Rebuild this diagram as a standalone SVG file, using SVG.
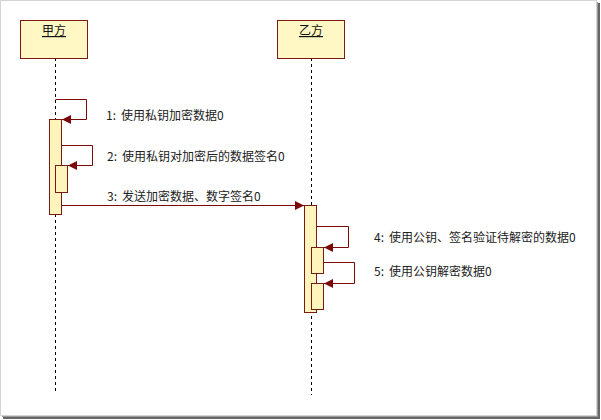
<svg xmlns="http://www.w3.org/2000/svg" width="601" height="420" viewBox="0 0 601 420">
<defs>
<marker id="ah" markerUnits="userSpaceOnUse" markerWidth="9" markerHeight="9" refX="9" refY="4.5" orient="auto">
<path d="M0,0 L9,4.5 L0,9 z" fill="#7a0a0a"/>
</marker>
</defs>
<style>
.box{fill:#fff8c4;stroke:#7a1a10;stroke-width:1}
.act{fill:#fff5bc;stroke:#7a1a10;stroke-width:1}
.life{stroke:#000;stroke-width:1;stroke-dasharray:3 3;fill:none}
.msg{stroke:#7a0a0a;stroke-width:1;fill:none;marker-end:url(#ah)}
.title{font-family:"Noto Sans CJK SC","Liberation Sans",sans-serif;font-size:12px;fill:#111;text-anchor:middle;text-decoration:underline}
.lbl{font-family:"Noto Sans CJK SC","Liberation Sans",sans-serif;font-size:12px;fill:#222}
</style>
<rect x="3" y="3" width="597" height="416" fill="#666"/>
<rect x="2" y="2" width="596" height="415" fill="#9a9a9a"/>
<rect x="0.5" y="0.5" width="596" height="415" fill="#fff" stroke="#d4d4d4"/>
<g id="jiafang">
<line class="life" x1="55.5" y1="58" x2="55.5" y2="392"/>
<rect class="box" x="20.5" y="20.5" width="67" height="38"/>
<text class="title" x="54" y="35">甲方</text>
<rect class="act" x="49.5" y="119.5" width="12" height="95"/>
<rect class="act" x="55.5" y="165.5" width="12" height="27"/>
</g>
<g id="yifang">
<line class="life" x1="311.5" y1="58" x2="311.5" y2="395"/>
<rect class="box" x="277.5" y="20.5" width="67" height="38"/>
<text class="title" x="311" y="35">乙方</text>
<rect class="act" x="304.5" y="205.5" width="12" height="107"/>
<rect class="act" x="311.5" y="247.5" width="12" height="26"/>
<rect class="act" x="311.5" y="283.5" width="12" height="26"/>
</g>
<g id="connectors">
<path class="msg" d="M55.5,99.5 H86.5 V119.5 H62"/>
<path class="msg" d="M61.5,145.5 H92.5 V165.5 H68"/>
<path class="msg" d="M61.5,205.5 H304"/>
<path class="msg" d="M316.5,226.5 H348.5 V247.5 H324"/>
<path class="msg" d="M323.5,262.5 H354.5 V283.5 H324"/>
<text class="lbl" x="106" y="120">1:<tspan dx="5">使用私钥加密数据0</tspan></text>
<text class="lbl" x="107" y="161">2:<tspan dx="5">使用私钥对加密后的数据签名0</tspan></text>
<text class="lbl" x="107" y="201">3:<tspan dx="5">发送加密数据、数字签名0</tspan></text>
<text class="lbl" x="374" y="242">4:<tspan dx="5">使用公钥、签名验证待解密的数据0</tspan></text>
<text class="lbl" x="374" y="276">5:<tspan dx="5">使用公钥解密数据0</tspan></text>
</g>
</svg>
